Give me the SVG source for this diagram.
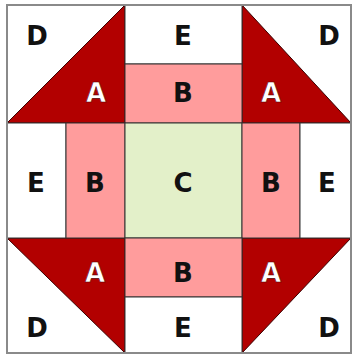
<svg xmlns="http://www.w3.org/2000/svg" width="354" height="356" viewBox="0 0 354 356">
<style>
.a{fill:#b20000;stroke:#3a0000;stroke-width:1}
.w{fill:#ffffff;stroke:#333;stroke-width:1}
.b{fill:#ff9c9c;stroke:#333;stroke-width:1}
.c{fill:#e3f0c9;stroke:#333;stroke-width:1}
text{font-family:"DejaVu Sans","Liberation Sans",sans-serif;font-weight:bold;font-size:26px;text-anchor:middle}
.dk{fill:#111}
.lt{fill:#fff;stroke:#500;stroke-width:0.6}
</style>
<rect x="0" y="0" width="354" height="356" fill="#fff"/>
<g id="corner-tl">
<rect class="w" x="7" y="5" width="118" height="118"/>
<polygon class="a" points="7,123 125,5 125,123"/>
<text class="dk" x="37" y="45">D</text>
<text class="lt" x="96" y="102">A</text>
</g>
<g id="corner-tr">
<rect class="w" x="242" y="5" width="109" height="118"/>
<polygon class="a" points="242,5 351,123 242,123"/>
<text class="dk" x="329" y="45">D</text>
<text class="lt" x="271" y="102">A</text>
</g>
<g id="corner-bl">
<rect class="w" x="7" y="238" width="118" height="115"/>
<polygon class="a" points="7,238 125,238 125,353"/>
<text class="lt" x="95" y="282">A</text>
<text class="dk" x="37" y="337">D</text>
</g>
<g id="corner-br">
<rect class="w" x="242" y="238" width="109" height="115"/>
<polygon class="a" points="242,238 351,238 242,353"/>
<text class="lt" x="271" y="282">A</text>
<text class="dk" x="329" y="337">D</text>
</g>
<g id="e-top"><rect class="w" x="125" y="5" width="117" height="59"/><text class="dk" x="183" y="45">E</text></g>
<g id="b-top"><rect class="b" x="125" y="64" width="117" height="59"/><text class="dk" x="183" y="102">B</text></g>
<g id="e-left"><rect class="w" x="7" y="123" width="59" height="115"/><text class="dk" x="36" y="192">E</text></g>
<g id="b-left"><rect class="b" x="66" y="123" width="59" height="115"/><text class="dk" x="95" y="192">B</text></g>
<g id="c-center"><rect class="c" x="125" y="123" width="117" height="115"/><text class="dk" x="183" y="192">C</text></g>
<g id="b-right"><rect class="b" x="242" y="123" width="58" height="115"/><text class="dk" x="271" y="192">B</text></g>
<g id="e-right"><rect class="w" x="300" y="123" width="51" height="115"/><text class="dk" x="327" y="192">E</text></g>
<g id="b-bottom"><rect class="b" x="125" y="238" width="117" height="59"/><text class="dk" x="183" y="282">B</text></g>
<g id="e-bottom"><rect class="w" x="125" y="297" width="117" height="56"/><text class="dk" x="183" y="337">E</text></g>
<g id="connectors"></g>
<rect x="7" y="5" width="344" height="348" fill="none" stroke="#8a8a8a" stroke-width="2"/>
</svg>
